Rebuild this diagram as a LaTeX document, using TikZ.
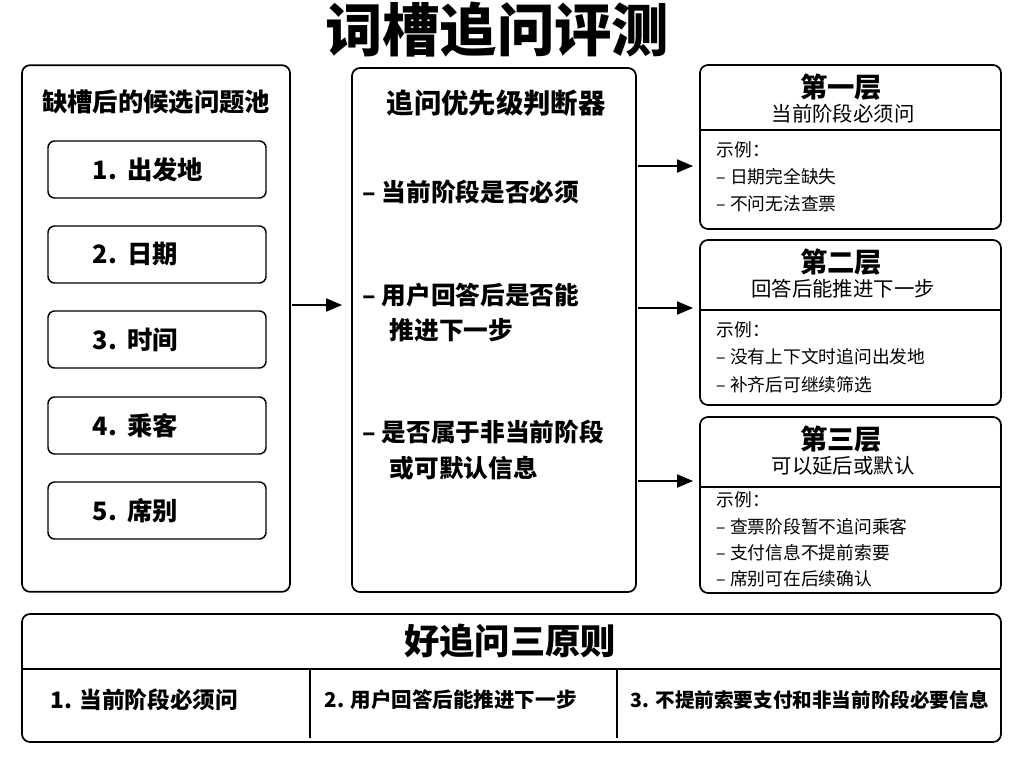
\documentclass[tikz,border=0pt]{standalone}
\usepackage{fontspec}
\setmainfont{Noto Sans CJK SC}
\usetikzlibrary{positioning, calc, arrows}

\begin{document}
\begin{tikzpicture}[x=0.75pt, y=-0.75pt, >=triangle 45,
    box/.style={draw, line width=1.3pt, rounded corners=6pt},
    slot/.style={draw, line width=1.1pt, rounded corners=5pt, minimum width=163.5pt, minimum height=42.75pt},
    head/.style={font=\bfseries\fontsize{19}{21}\selectfont},
    slottext/.style={font=\bfseries\fontsize{19}{21}\selectfont, anchor=west},
    bul/.style={font=\bfseries\fontsize{18.5}{21}\selectfont, anchor=west},
    small/.style={font=\fontsize{13.3}{15}\selectfont, anchor=west},
    arr/.style={->, line width=1.8pt}]

  \useasboundingbox (0,0) rectangle (1024,768);
  \node[font=\bfseries\fontsize{43}{46}\selectfont] (title) at (497,30) {词槽追问评测};

  % candidate pool
  \node[box, minimum width=201pt, minimum height=395pt] (pool) at (156,328.5) {};
  \node[head] (poolT) at (156,102) {缺槽后的候选问题池};
  \foreach \i/\y/\t in {1/169.5/出发地, 2/254.5/日期, 3/339.5/时间, 4/425.5/乘客, 5/510.5/席别} {
    \node[slot] (s\i) at (157,\y) {};
    \node[slottext] (t\i) at (88,\y) {\i.\hspace{0.4em}\t};
  }

  % judge
  \node[box, minimum width=213pt, minimum height=393pt] (judge) at (494,330) {};
  \node[font=\bfseries\fontsize{20.5}{22}\selectfont] (judgeT) at (496,103) {追问优先级判断器};
  \node[bul] (b1) at (358,192) {– 当前阶段是否必须};
  \node[bul] (b2) at (358,295) {– 用户回答后是否能};
  \node[bul] (b2b) at (385,330) {推进下一步};
  \node[bul] (b3) at (358,432) {– 是否属于非当前阶段};
  \node[bul] (b3b) at (385,468) {或可默认信息};
  \coordinate (p1) at (292,305); \coordinate (p2) at (342,305);
  \draw[arr] (p1) -- (p2);

  % levels
  \foreach \n/\ya/\yd/\yb/\ta/\tb in {L1/65/130/229/第一层/当前阶段必须问, L2/240/310/405/第二层/回答后能推进下一步, L3/417/487/593/第三层/可以延后或默认} {
    \draw[box] (700,\ya) rectangle (1001,\yb);
    \draw[line width=1.1pt] (700,\yd) -- (1001,\yd);
    \node[font=\bfseries\fontsize{20.5}{22}\selectfont] (\n a) at (841,\ya+22) {\ta};
    \node[font=\fontsize{15.3}{17}\selectfont] (\n b) at (843,\ya+49) {\tb};
  }
  \node[small] (e1) at (712,150) {示例：};
  \node[small] (e2) at (712,177) {– 日期完全缺失};
  \node[small] (e3) at (712,204) {– 不问无法查票};
  \node[small] (f1) at (712,330) {示例：};
  \node[small] (f2) at (712,357) {– 没有上下文时追问出发地};
  \node[small] (f3) at (712,385) {– 补齐后可继续筛选};
  \node[small] (g1) at (712,500) {示例：};
  \node[small] (g2) at (712,527) {– 查票阶段暂不追问乘客};
  \node[small] (g3) at (712,553) {– 支付信息不提前索要};
  \node[small] (g4) at (712,579) {– 席别可在后续确认};
  \foreach \y in {166,308,481} {
    \coordinate (q1) at (638,\y); \coordinate (q2) at (693,\y);
    \draw[arr] (q1) -- (q2);
  }

  % principles
  \draw[box] (22,614) rectangle (1001,742);
  \draw[line width=1.1pt] (22,669) -- (1001,669);
  \draw[line width=1.1pt] (310,669) -- (310,738);
  \draw[line width=1.1pt] (617,669) -- (617,738);
  \node[font=\bfseries\fontsize{26.5}{28}\selectfont] (rule) at (510,641) {好追问三原则};
  \node[font=\bfseries\fontsize{17}{19}\selectfont, anchor=west] (r1) at (46,700) {1. 当前阶段必须问};
  \node[font=\bfseries\fontsize{15.4}{17}\selectfont, anchor=west] (r2) at (320,700) {2. 用户回答后能推进下一步};
  \node[font=\bfseries\fontsize{14.7}{16}\selectfont, anchor=west] (r3) at (626,700) {3. 不提前索要支付和非当前阶段必要信息};
\end{tikzpicture}
\end{document}
